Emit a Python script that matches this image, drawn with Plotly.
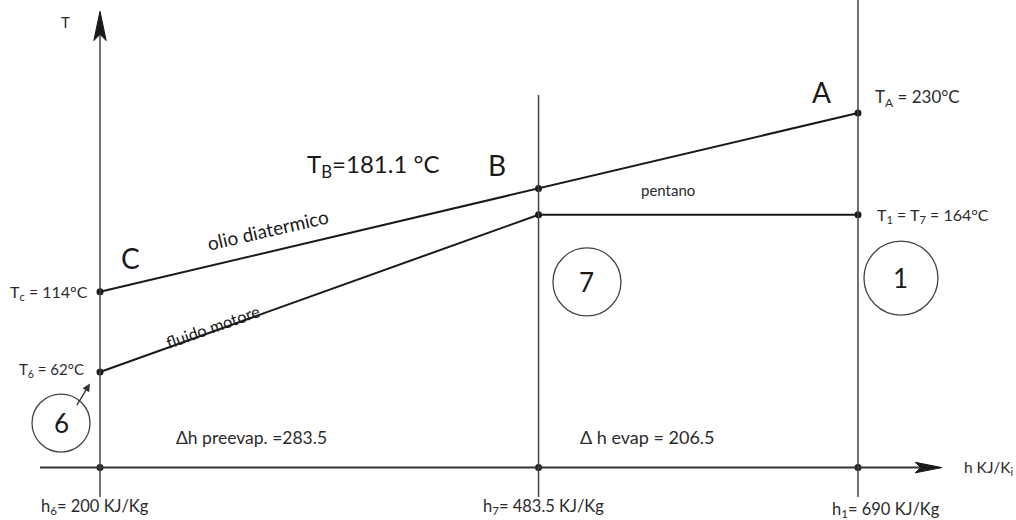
import plotly.graph_objects as go

# State points along the enthalpy axis (kJ/kg)
h_points = [200, 483.5, 690]
h_labels = ["h<sub>6</sub>= 200 KJ/Kg", "h<sub>7</sub>= 483.5 KJ/Kg", "h<sub>1</sub>= 690 KJ/Kg"]

# Thermal oil (olio diatermico): C -> B -> A
oil_T = [114, 181.1, 230]
# Working fluid (fluido motore, pentano): 6 -> 7 -> 1
fluid_T = [62, 164, 164]

dh_preevap = 283.5
dh_evap = 206.5

FONT = "Lato, 'Open Sans', sans-serif"
INK = "#1a1a1a"
TXT = "#2b2b2b"

# Axis ranges chosen so that 1 unit of h and 1 degC have nearly equal pixel size
X_RANGE = [135.35, 792.16]
Y_RANGE = [-34.0, 303.3]

fig = go.Figure()

# Oil line
fig.add_trace(go.Scatter(
    x=h_points, y=oil_T, mode="lines+markers",
    line=dict(color=INK, width=2), marker=dict(color=INK, size=7),
    hoverinfo="skip", showlegend=False))

# Working fluid line
fig.add_trace(go.Scatter(
    x=h_points, y=fluid_T, mode="lines+markers",
    line=dict(color=INK, width=2), marker=dict(color=INK, size=7),
    hoverinfo="skip", showlegend=False))

# Dots on the enthalpy axis
fig.add_trace(go.Scatter(
    x=h_points, y=[0] * len(h_points), mode="markers",
    marker=dict(color=INK, size=7), hoverinfo="skip", showlegend=False))

shapes = []
# Horizontal h axis
shapes.append(dict(type="line", x0=161.2, x1=730, y0=0, y1=0,
                   line=dict(color="#333", width=2)))
# Arrowhead of h axis
shapes.append(dict(type="path",
                   path="M 744.3,0 L 727.0,3.4 L 730.5,0 L 727.0,-3.4 Z",
                   fillcolor=INK, line=dict(color=INK, width=1)))
# Vertical T axis at h6 and guides at h7, h1
v_tops = [281.0, 241.6, 310.0]
for h, top in zip(h_points, v_tops):
    shapes.append(dict(type="line", x0=h, x1=h, y0=-19.1, y1=top,
                       line=dict(color="#444", width=1.5)))
# Arrowhead of T axis
shapes.append(dict(type="path",
                   path="M 200,296.0 L 196.0,277.0 L 200,281.0 L 204.0,277.0 Z",
                   fillcolor=INK, line=dict(color=INK, width=1)))

# Numbered state circles (pixel-sized, anchored in data space)
circles = [("6", 174.8, 28.9, 29), ("7", 514.8, 120.4, 34), ("1", 717.8, 122.9, 37)]
for _, cx, cy, r in circles:
    shapes.append(dict(type="circle", xref="x", yref="y",
                       xsizemode="pixel", ysizemode="pixel",
                       xanchor=cx, yanchor=cy, x0=-r, x1=r, y0=-r, y1=r,
                       line=dict(color="#444", width=1.3)))

ann = []
for name, cx, cy, _ in circles:
    ann.append(dict(x=cx, y=cy, text=name, showarrow=False,
                    font=dict(family=FONT, size=26, color=INK)))

# Small arrow from circle 6 to its point
ann.append(dict(x=193.5, y=54.5, ax=-14, ay=23, text="", showarrow=True,
                arrowhead=2, arrowsize=1.2, arrowwidth=1.3, arrowcolor="#333"))

# Point letters
for letter, x, y in [("A", 666.7, 243.6), ("B", 456.6, 196.2), ("C", 219.4, 136.0)]:
    ann.append(dict(x=x, y=y, text=letter, showarrow=False,
                    font=dict(family=FONT, size=28, color=INK)))

ann.append(dict(x=376.5, y=196.2, text="T<sub>B</sub>=181.1 °C", showarrow=False,
                font=dict(family=FONT, size=24, color=INK)))

# Temperature labels beside the axes
ann.append(dict(x=h_points[2], y=oil_T[2], xanchor="left", xshift=15, yshift=15,
                text="T<sub>A</sub> = 230°C", showarrow=False,
                font=dict(family=FONT, size=17, color=TXT)))
ann.append(dict(x=h_points[2], y=fluid_T[2], xanchor="left", xshift=17, yshift=-1,
                text="T<sub>1</sub> = T<sub>7</sub> = 164°C", showarrow=False,
                font=dict(family=FONT, size=16, color=TXT)))
ann.append(dict(x=h_points[0], y=oil_T[0], xanchor="right", xshift=-10, yshift=-1,
                text="T<sub>c</sub> = 114°C", showarrow=False,
                font=dict(family=FONT, size=16, color=TXT)))
ann.append(dict(x=h_points[0], y=fluid_T[0], xanchor="right", xshift=-14, yshift=2,
                text="T<sub>6</sub> = 62°C", showarrow=False,
                font=dict(family=FONT, size=15, color=TXT)))

# Line names
ann.append(dict(x=308.6, y=154.7, text="olio diatermico", textangle=-13, showarrow=False,
                font=dict(family=FONT, size=19, color=INK)))
ann.append(dict(x=273.0, y=91.2, text="fluido motore", textangle=-19.5, showarrow=False,
                font=dict(family=FONT, size=16.5, color=INK)))
ann.append(dict(x=567.2, y=180.0, text="pentano", showarrow=False,
                font=dict(family=FONT, size=15, color=TXT)))

# Enthalpy differences
ann.append(dict(x=(h_points[0] + h_points[1]) / 2 - 43.5, y=19.8,
                text=f"Δh preevap. ={dh_preevap}", showarrow=False,
                font=dict(family=FONT, size=17.5, color=TXT)))
ann.append(dict(x=(h_points[1] + h_points[2]) / 2 - 32.5, y=19.8,
                text=f"Δ h evap = {dh_evap}", showarrow=False,
                font=dict(family=FONT, size=18, color=TXT)))

# Axis names
ann.append(dict(x=h_points[0], y=289.0, xshift=-35, text="T", showarrow=False,
                font=dict(family=FONT, size=15, color=TXT)))
ann.append(dict(x=744.3, y=0, xanchor="left", xshift=20, text="h KJ/K<sub>i</sub>",
                showarrow=False, font=dict(family=FONT, size=15.5, color=TXT)))

# Enthalpy tick labels
for h, lab, dx, dy in zip(h_points, h_labels, [-5, 5, 28], [-39, -39, -42]):
    ann.append(dict(x=h, y=0, text=lab, xshift=dx, yshift=dy, showarrow=False,
                    font=dict(family=FONT, size=16.5, color=TXT)))

fig.update_layout(
    width=1016, height=520,
    margin=dict(l=0, r=0, t=0, b=0),
    paper_bgcolor="white", plot_bgcolor="white",
    xaxis=dict(range=X_RANGE, visible=False, fixedrange=True),
    yaxis=dict(range=Y_RANGE, visible=False, fixedrange=True),
    shapes=shapes, annotations=ann,
)

fig.write_html("out.html")
